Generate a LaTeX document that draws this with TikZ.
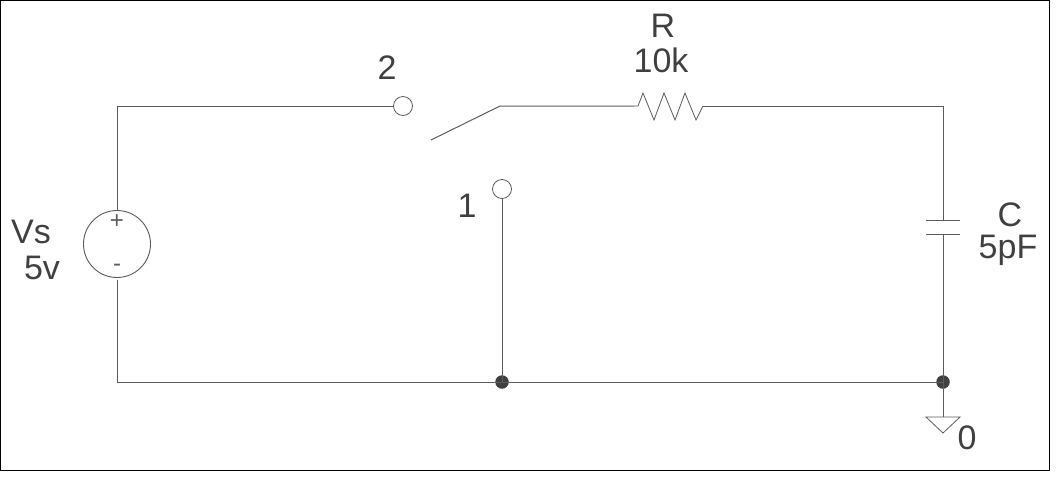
\documentclass[tikz,border=0pt]{standalone}
\usepackage{fontspec}
\setmainfont{Liberation Sans}
\newlength{\du}
\setlength{\du}{0.75pt}
\definecolor{wirecolor}{rgb}{0.36, 0.36, 0.36}
\definecolor{labelcolor}{rgb}{0.25, 0.25, 0.25}
\tikzset{
  wire/.style={draw=wirecolor, line width=1\du},
  terminal/.style={circle, draw=wirecolor, fill=white, line width=0.8\du, inner sep=0pt, minimum size=19\du},
  source/.style={circle, draw=wirecolor, fill=white, line width=0.9\du, inner sep=0pt, minimum size=67\du},
  junction/.style={circle, fill=labelcolor, inner sep=0pt, minimum size=13.5\du},
  label/.style={text=labelcolor, inner sep=0pt, font=\fontsize{25.5pt}{28pt}\selectfont},
  polarity/.style={text=wirecolor, inner sep=0pt, font=\fontsize{18pt}{20pt}\selectfont}
}

\begin{document}
\begin{tikzpicture}
\pgftransformxscale{1.000000}
\pgftransformyscale{-1.000000}
\useasboundingbox (0\du,0\du) rectangle (1057\du,479\du);
\draw[black, line width=1.4\du] (0.7\du,0.7\du) rectangle (1049.3\du,470.3\du);
% source and switch
\node[source] (vs) at (117\du,244\du) {};
\node[terminal] (term2) at (403\du,106\du) {};
\node[terminal] (term1) at (502\du,189\du) {};
\node[junction] (jmid) at (502\du,382\du) {};
\node[junction] (jright) at (943\du,382\du) {};
\coordinate (vsbot) at (117\du,280\du);
\coordinate (corner) at (117\du,382\du);
\coordinate (armfree) at (431\du,140\du);
\coordinate (armpivot) at (500\du,106\du);
\coordinate (resleft) at (634\du,106\du);
\coordinate (resright) at (703\du,106\du);
\coordinate (capa) at (943\du,220\du);
\coordinate (capb) at (943\du,234\du);
\coordinate (gndtop) at (943\du,417\du);
% wires
\draw[wire] (vs.north) |- (term2.west);
\draw[wire] (vsbot) -- (corner) -- (jright.center);
\draw[wire] (term1.south) -- (jmid.center);
\draw[wire] (armfree) -- (armpivot) -- (resleft);
\draw[wire] (resright) -| (capa);
\draw[wire] (capb) -- (jright.center);
\draw[wire] (jright.center) -- (gndtop);
% resistor
\draw[wire, line width=0.8\du] (resleft) -- (638\du,106\du) -- (643\du,93\du) -- (654\du,120\du) -- (664\du,93\du) -- (675\du,120\du) -- (685\du,93\du) -- (696\du,120\du) -- (resright);
% capacitor plates
\draw[wire] (926\du,220\du) -- (960\du,220\du);
\draw[wire] (926\du,234\du) -- (960\du,234\du);
% ground
\draw[wire, line width=0.8\du] (926\du,417\du) -- (960\du,417\du) -- (943\du,433\du) -- cycle;
% labels
\node[polarity] (plus) at (117\du,222\du) {+};
\node[polarity] (minus) at (117\du,268\du) {-};
\node[label] (vsname) at (31\du,232\du) {Vs};
\node[label] (vsval) at (42\du,268\du) {5v};
\node[label] (lab2) at (387\du,68\du) {2};
\node[label] (lab1) at (467\du,206\du) {1};
\node[label] (rname) at (663\du,26\du) {R};
\node[label] (rval) at (661\du,60\du) {10k};
\node[label] (cname) at (1010\du,215\du) {C};
\node[label] (cval) at (1008\du,250\du) {5pF};
\node[label] (gndname) at (967\du,438\du) {0};
\end{tikzpicture}
\end{document}
